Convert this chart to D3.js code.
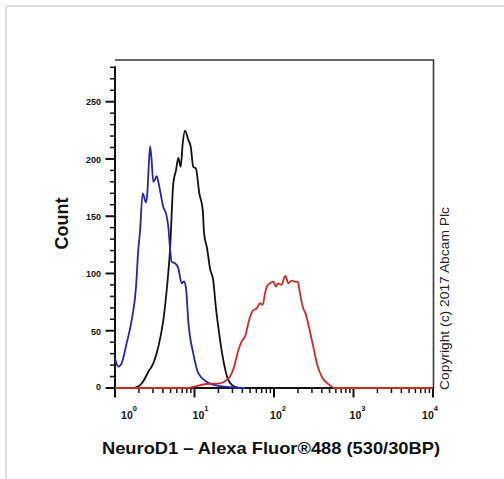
<!DOCTYPE html>
<html>
<head>
<meta charset="utf-8">
<script src="https://cdn.jsdelivr.net/npm/d3@7"></script>
<style>
  html, body { margin: 0; padding: 0; background: #fff; }
  svg { display: block; }
  text { font-family: "Liberation Sans", Arial, sans-serif; }
</style>
</head>
<body>
<script>
// ---- Data (fluorescence intensity vs count) ----
const blueIntensity = [1.00, 1.10, 1.21, 1.40, 1.62, 1.84, 1.96, 2.06, 2.23, 2.45, 2.55, 2.65, 2.76, 2.88, 3.03, 3.18, 3.35, 3.51, 3.79, 4.05, 4.38, 4.68, 4.92, 5.17, 5.69, 6.26, 6.90, 7.38, 7.82, 8.36, 9.66, 11.2, 14.2, 20.9, 30.5, 43.2];
const blueCount     = [26, 18.6, 21.5, 39, 59, 88.5, 120.5, 136, 170, 162, 170, 192, 211, 200, 180, 182, 185, 180, 168, 158, 152.5, 141, 122, 110, 109, 104.5, 91.4, 93, 87, 58, 30, 12.8, 5.5, 1.7, 0.6, 0];

const blackIntensity = [1.00, 1.70, 2.17, 2.62, 3.03, 3.51, 4.05, 4.55, 4.92, 5.41, 5.85, 6.26, 6.70, 7.11, 7.60, 8.36, 8.96, 9.66, 10.4, 11.5, 12.7, 13.2, 14.4, 15.7, 17.2, 18.6, 19.9, 23.0, 26.6, 32.3, 39.6, 10000];
const blackCount     = [0, 0, 4, 14, 21.5, 36, 59, 91, 120.5, 178.7, 190, 201, 193, 213.7, 224.7, 216.6, 210.7, 193, 191.8, 170, 155.5, 135, 122, 104, 94, 70, 53.5, 24.5, 7, 1.1, 0, 0];

const redIntensity = [1.00, 8.0, 9.66, 14.2, 20.9, 25.4, 28.0, 31.5, 35.6, 39.2, 43.2, 49.9, 54.9, 60.6, 66.7, 72.1, 77.1, 81.0, 89.1, 98.0, 106, 113, 125, 131, 140, 151, 167, 184, 199, 212, 230, 253, 278, 312, 351, 398, 482, 585, 10000];
const redCount     = [0, 0, 1, 3.5, 4, 7, 10, 18.6, 33, 40.5, 45, 62, 68, 69.5, 74, 72.5, 82.7, 88.5, 91.4, 92.8, 88.5, 91.4, 90, 94.3, 97.8, 91.4, 93.7, 92.8, 92.8, 82.7, 71, 63.8, 52, 36, 20, 10, 3.5, 0, 0];

const xDecades = [0, 1, 2, 3, 4];
const xLabelShift = [14, 6, 4, 4, -3];
const yMajorTicks = [0, 50, 100, 150, 200, 250];
const yMinorTicks = d3.range(0, 290, 10);
const xTitle = "NeuroD1 \u2013 Alexa Fluor\u00AE488 (530/30BP)";
const yTitle = "Count";
const copyright = "Copyright (c) 2017 Abcam Plc";

// ---- Layout ----
const W = 504, H = 479;
const pL = 115, pR = 433, pT = 60, pB = 388;

const svg = d3.select("body").append("svg").attr("width", W).attr("height", H);
svg.append("rect").attr("width", W).attr("height", H).attr("fill", "#fff");

// page border
svg.append("line").attr("x1", 6).attr("y1", 6).attr("x2", 504).attr("y2", 6)
  .attr("stroke", "#dedede").attr("stroke-width", 2);
svg.append("line").attr("x1", 6).attr("y1", 6).attr("x2", 6).attr("y2", 479)
  .attr("stroke", "#dedede").attr("stroke-width", 2);

const x = d3.scaleLog().domain([1, 10000]).range([pL, pR]);
const y = d3.scaleLinear().domain([0, 286.4]).range([pB, pT]);

// frame (top & right)
svg.append("path")
  .attr("d", `M${pL},${pT}H${pR + 0.5}V${pB}`)
  .attr("fill", "none").attr("stroke", "#3a3a3a").attr("stroke-width", 1.6);

// x minor/major ticks
const xMinor = [];
xDecades.slice(0, -1).forEach(d => { for (let k = 2; k <= 9; k++) xMinor.push(k * Math.pow(10, d)); });
const gx = svg.append("g");
gx.selectAll("line.minor").data(xMinor).join("line").attr("class", "minor")
  .attr("x1", d => x(d)).attr("x2", d => x(d))
  .attr("y1", pB).attr("y2", pB + 5)
  .attr("stroke", "#111").attr("stroke-width", 1.5);
gx.selectAll("line.major").data(xDecades).join("line").attr("class", "major")
  .attr("x1", d => x(Math.pow(10, d))).attr("x2", d => x(Math.pow(10, d)))
  .attr("y1", pB).attr("y2", pB + 9.5)
  .attr("stroke", "#111").attr("stroke-width", 2);
const xl = gx.selectAll("text").data(xDecades).join("text")
  .attr("x", (d, i) => x(Math.pow(10, d)) + xLabelShift[i])
  .attr("y", 419)
  .attr("text-anchor", "middle")
  .attr("font-size", 10.5).attr("font-weight", "bold").attr("fill", "#111");
xl.append("tspan").text("10");
xl.append("tspan").attr("dy", -8).attr("font-size", 7.5).text(d => d);

// y ticks
const gy = svg.append("g");
gy.selectAll("line.minor").data(yMinorTicks.filter(v => v % 50 !== 0)).join("line").attr("class", "minor")
  .attr("x1", pL - 5).attr("x2", pL)
  .attr("y1", d => y(d)).attr("y2", d => y(d))
  .attr("stroke", "#111").attr("stroke-width", 1.5);
gy.selectAll("line.major").data(yMajorTicks).join("line").attr("class", "major")
  .attr("x1", pL - 9.5).attr("x2", pL)
  .attr("y1", d => y(d)).attr("y2", d => y(d))
  .attr("stroke", "#111").attr("stroke-width", 2);
gy.selectAll("text").data(yMajorTicks).join("text")
  .attr("x", 101).attr("y", d => y(d) + (d === 0 ? 1.5 : 3.8))
  .attr("text-anchor", "end")
  .attr("font-size", 9).attr("font-weight", "bold").attr("fill", "#111")
  .text(d => d);

// axis lines
svg.append("line").attr("x1", pL).attr("x2", pL).attr("y1", y(280) - 1).attr("y2", pB + 1)
  .attr("stroke", "#111").attr("stroke-width", 2);
svg.append("line").attr("x1", pL - 1).attr("x2", pR + 1).attr("y1", pB).attr("y2", pB)
  .attr("stroke", "#111").attr("stroke-width", 2);

// curves
const line = d3.line().x(d => x(d[0])).y(d => y(d[1])).curve(d3.curveMonotoneX);
const series = [
  { xs: blackIntensity, ys: blackCount, color: "#111111" },
  { xs: blueIntensity, ys: blueCount, color: "#2424b0" },
  { xs: redIntensity, ys: redCount, color: "#cc2a2a" }
];
svg.append("g").selectAll("path").data(series).join("path")
  .attr("d", s => line(s.xs.map((v, i) => [v, s.ys[i]])))
  .attr("fill", "none")
  .attr("stroke", s => s.color)
  .attr("stroke-width", 1.8)
  .attr("stroke-linejoin", "round");

// titles
svg.append("text")
  .attr("x", 271).attr("y", 453.5)
  .attr("text-anchor", "middle")
  .attr("font-size", 16.5).attr("font-weight", "bold").attr("fill", "#111")
  .attr("textLength", 338).attr("lengthAdjust", "spacingAndGlyphs")
  .text(xTitle);

svg.append("text")
  .attr("transform", "translate(68,223.5) rotate(-90)")
  .attr("text-anchor", "middle")
  .attr("font-size", 18).attr("font-weight", "bold").attr("fill", "#111")
  .text(yTitle);

svg.append("text")
  .attr("transform", "translate(449,390) rotate(-90)")
  .attr("text-anchor", "start")
  .attr("font-size", 12.5).attr("fill", "#222")
  .attr("textLength", 183).attr("lengthAdjust", "spacingAndGlyphs")
  .text(copyright);
</script>
</body>
</html>
